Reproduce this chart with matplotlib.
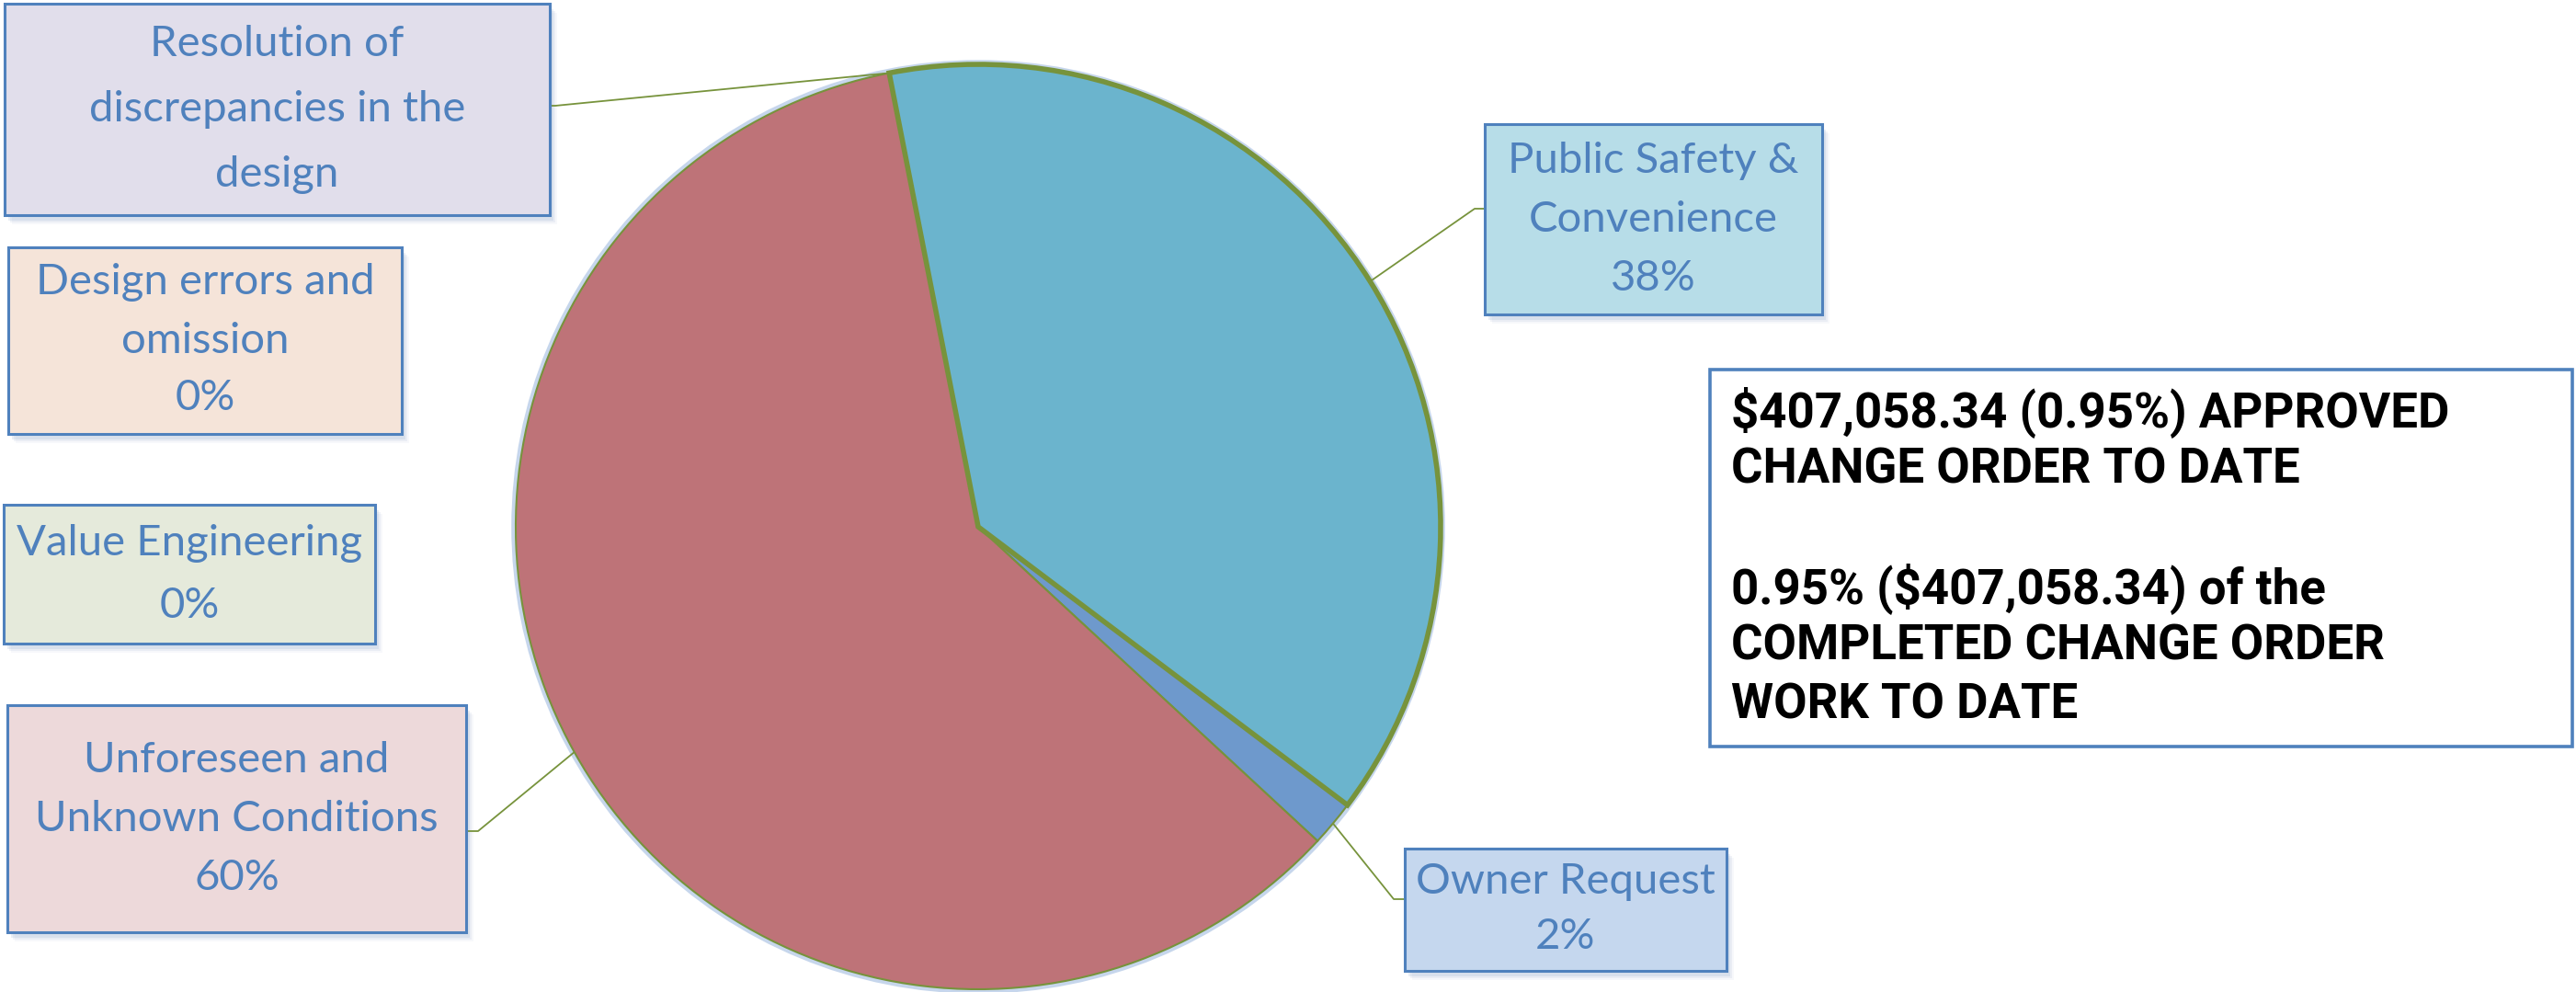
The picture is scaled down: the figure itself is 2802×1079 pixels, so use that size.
import matplotlib
matplotlib.use("Agg")
import matplotlib.pyplot as plt
from matplotlib.patches import Rectangle, Circle
import numpy as np

W, H = 2802, 1079

# data, clockwise from the top of the pie
categories = ["Public Safety &\nConvenience", "Owner Request", "Unforeseen and\nUnknown Conditions",
              "Value Engineering", "Design errors and\nomission", "Resolution of\ndiscrepancies in the\ndesign"]
shares = [38.36, 1.61, 60.03, 0.0, 0.0, 0.0]
show_pct = [True, True, True, True, True, False]
slice_colors = ["#6BB4CD", "#6E99CC", "#BE7378", "#9BBB59", "#F79646", "#8064A2"]
box_fills = ["#B7DDE8", "#C5D7EE", "#EDD9DA", "#E5EADB", "#F5E4D9", "#E1DEEB"]
note_lines = ["$407,058.34 (0.95%) APPROVED", "CHANGE ORDER TO DATE", "",
              "0.95% ($407,058.34) of the", "COMPLETED CHANGE ORDER", "WORK TO DATE"]

# label boxes in picture pixels (x0, y0, x1, y1, line step), y counted from top
boxes = [(1615, 135, 1982, 342, 64),
         (1528, 923, 1878, 1056, 60),
         (8, 767, 507, 1014, 64),
         (4, 549, 408, 700, 68),
         (9, 269, 437, 472, 63),
         (5, 4, 598, 234, 71)]
# leader elbows (elbow point, end point), None = no leader
leaders = [((1604, 227), (1615, 227)),
           ((1516, 978), (1528, 978)),
           ((520, 904), (507, 904)),
           None,
           None,
           ((604, 115), (598, 115))]

BLUE = "#4F81BD"
GREEN = "#77933C"
cx, cy, R = 1064, 573, 503


def fy(y):
    return H - y


fig = plt.figure(figsize=(W / 100, H / 100), dpi=100)
ax = fig.add_axes([0, 0, 1, 1])

# soft glow round the pie
ax.add_patch(Circle((cx, fy(cy)), R + 2, facecolor="none", edgecolor="#C6D6EC", lw=4, zorder=1))

wedges, _ = ax.pie(shares, colors=slice_colors, startangle=101.1, counterclock=False,
                   center=(cx, fy(cy)), radius=R,
                   wedgeprops=dict(edgecolor=GREEN, linewidth=1.5))
for w in wedges:
    w.set_zorder(2)
wedges[0].set_linewidth(4)
wedges[0].set_zorder(3)

for i, (cat, val) in enumerate(zip(categories, shares)):
    x0, y0, x1, y1, step = boxes[i]
    # shadow
    for k, a in enumerate([0.18, 0.12, 0.07]):
        ax.add_patch(Rectangle((x0 + 4 + k * 2, fy(y1) - 6 - k * 2), x1 - x0, y1 - y0,
                               facecolor="#8EA4C8", edgecolor="none", alpha=a, zorder=4))
    ax.add_patch(Rectangle((x0, fy(y1)), x1 - x0, y1 - y0, facecolor=box_fills[i],
                           edgecolor=BLUE, lw=2.2, zorder=5))
    lines = cat.split("\n")
    if show_pct[i]:
        lines.append(f"{round(val)}%")
    ymid = (y0 + y1) / 2
    n = len(lines)
    for j, ln in enumerate(lines):
        yy = ymid + (j - (n - 1) / 2) * step
        ax.text((x0 + x1) / 2, fy(yy), ln, ha="center", va="center", color=BLUE,
                fontsize=34, family="Lato", zorder=6)

    if leaders[i] is not None:
        w = wedges[i]
        mid = np.deg2rad((w.theta1 + w.theta2) / 2)
        px, py = cx + R * np.cos(mid), fy(cy) + R * np.sin(mid)
        (ex, ey), (tx, ty) = leaders[i]
        ax.plot([px, ex, tx], [py, fy(ey), fy(ty)], color=GREEN, lw=1.3, zorder=4,
                solid_capstyle="butt")

# note box on the right
ax.add_patch(Rectangle((1860, fy(812)), 938, 410, facecolor="white", edgecolor=BLUE,
                       lw=2.6, zorder=5))
note_y = [448, 511, 575, 640, 703, 767]
for ln, yy in zip(note_lines, note_y):
    ax.text(1883, fy(yy), ln, ha="left", va="center", color="black", fontsize=38,
            family="Roboto", fontweight="bold", zorder=6)

ax.set_xlim(0, W)
ax.set_ylim(0, H)
ax.set_aspect("equal")
ax.axis("off")
fig.savefig("out.png", dpi=100)
